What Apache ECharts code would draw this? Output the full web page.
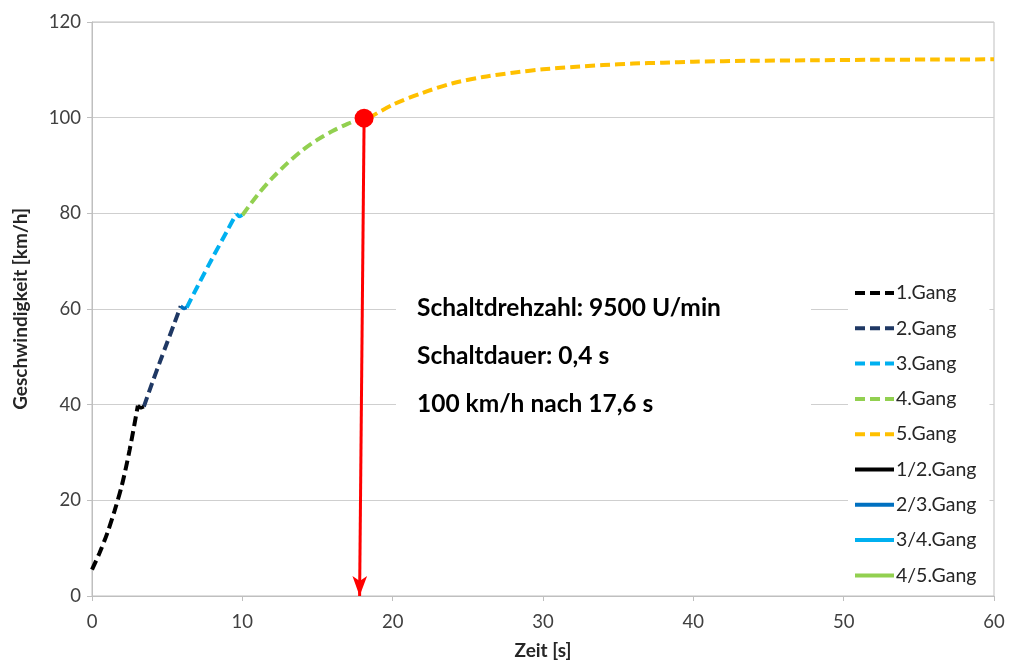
<!DOCTYPE html>
<html>
<head>
<meta charset="utf-8">
<script src="https://cdn.jsdelivr.net/npm/echarts@6/dist/echarts.min.js"></script>
<style>html,body{margin:0;padding:0;background:#fff}#c{width:1010px;height:665px}</style>
</head>
<body>
<div id="c"></div>
<script>
// ---- data ----
const xTicks = [0, 10, 20, 30, 40, 50, 60];
const yTicks = [0, 20, 40, 60, 80, 100, 120];
const gear1 = [[0,5.5],[0.5,9],[1,13],[1.5,17.8],[2,23.3],[2.5,30.5],[3.05,39.8]];
const shift12 = [[3.05,39.8],[3.25,39.3],[3.45,39.6]];
const gear2 = [[3.45,39.6],[4,44.5],[4.5,48.8],[5,53],[5.5,57.2],[5.9,60.6]];
const shift23 = [[5.9,60.6],[6.1,60.1],[6.3,60.3]];
const gear3 = [[6.3,60.3],[7,64.6],[8,70.6],[9,76.4],[9.6,79.9]];
const shift34 = [[9.6,79.9],[9.8,79.3],[10,79.6]];
const gear4 = [[10,79.6],[11,83.8],[12,87.4],[13,90.5],[14,93.2],[15,95.4],[16,97.2],[17,98.7],[18,99.9]];
const shift45 = [[18,99.9],[18.2,99.6],[18.4,99.9]];
const gear5 = [[18.4,99.9],[20,102.7],[22,105.2],[24,107.2],[26,108.5],[28,109.4],[30,110.1],[32,110.6],[34,111.0],[36,111.3],[38,111.5],[40,111.7],[44,111.9],[48,112.0],[52,112.1],[56,112.15],[60,112.2]];
const marker = [[18.1, 99.9]];
const arrowFrom = [18.1, 99.9];
const arrowTo = [17.8, 0];
const infoLines = ['Schaltdrehzahl: 9500 U/min', 'Schaltdauer: 0,4 s', '100 km/h nach 17,6 s'];
const legendNames = ['1.Gang','2.Gang','3.Gang','4.Gang','5.Gang','1/2.Gang','2/3.Gang','3/4.Gang','4/5.Gang'];

const FONT = 'Lato';
const chart = echarts.init(document.getElementById('c'));

function dashed(name, data, color) {
  return {name, type:'line', data, symbol:'none', smooth:0.3, z:3,
    lineStyle:{color, width:4, type:[10,5], cap:'butt'}, itemStyle:{color}};
}
function solid(name, data, color) {
  return {name, type:'line', data, symbol:'none', smooth:false, z:3,
    lineStyle:{color, width:3.5, type:'solid'}, itemStyle:{color}};
}

const option = {
  animation:false,
  backgroundColor:'#fff',
  textStyle:{fontFamily:FONT},
  grid:{left:92, right:16, top:22, bottom:66, show:true, borderColor:'#BFBFBF', borderWidth:1},
  xAxis:{type:'value', min:0, max:60, interval:10,
    name:'Zeit [s]', nameLocation:'middle', nameGap:45,
    nameTextStyle:{fontFamily:FONT, fontWeight:'bold', fontSize:19, color:'#262626'},
    axisLine:{show:true, lineStyle:{color:'#BFBFBF'}},
    axisTick:{show:true, length:5, lineStyle:{color:'#BFBFBF'}},
    axisLabel:{fontFamily:FONT, fontSize:18.5, color:'#404040', margin:17,
      formatter:v=>xTicks.includes(v)?String(v):''},
    splitLine:{show:false}},
  yAxis:{type:'value', min:0, max:120, interval:20,
    name:'Geschwindigkeit [km/h]', nameLocation:'middle', nameGap:62,
    nameTextStyle:{fontFamily:FONT, fontWeight:'bold', fontSize:19, color:'#262626'},
    axisLine:{show:true, lineStyle:{color:'#BFBFBF'}},
    axisTick:{show:true, length:5, lineStyle:{color:'#BFBFBF'}},
    axisLabel:{fontFamily:FONT, fontSize:18.5, color:'#404040', margin:11,
      formatter:v=>yTicks.includes(v)?String(v):''},
    splitLine:{show:true, lineStyle:{color:'#CFCFCF', width:1}}},
  legend:{orient:'vertical', left:848, top:275, data:legendNames,
    backgroundColor:'#fff', padding:[8,13,8,5],
    itemWidth:39, itemHeight:14, itemGap:15.3,
    itemStyle:{opacity:0},
    lineStyle:{width:4},
    textStyle:{fontFamily:FONT, fontSize:19.5, color:'#262626', lineHeight:20, padding:[0,0,0,-3]}},
  graphic:[
    {type:'rect', left:396, top:250, shape:{width:415, height:200}, style:{fill:'#fff'}, z:1, silent:true},
    ...infoLines.map((t,i)=>({type:'text', left:417, top:310 + i*48 - 14, z:2, silent:true,
      style:{text:t, fill:'#000', font:'bold 24.5px ' + FONT}}))
  ],
  series:[
    dashed('1.Gang', gear1, '#000000'),
    dashed('2.Gang', gear2, '#1F3864'),
    dashed('3.Gang', gear3, '#00B0F0'),
    dashed('4.Gang', gear4, '#92D050'),
    dashed('5.Gang', gear5, '#FFC000'),
    solid('1/2.Gang', shift12, '#000000'),
    solid('2/3.Gang', shift23, '#0070C0'),
    solid('3/4.Gang', shift34, '#00B0F0'),
    solid('4/5.Gang', shift45, '#92D050'),
    {name:'marker', type:'scatter', data:marker, symbolSize:19, z:5,
      itemStyle:{color:'#FF0000', opacity:1},
      markLine:{silent:true, symbol:['none','arrow'], symbolSize:[11,20],
        label:{show:false},
        lineStyle:{color:'#FF0000', width:3, type:'solid'},
        data:[[{coord:arrowFrom},{coord:arrowTo}]]}}
  ]
};
chart.setOption(option);
</script>
</body>
</html>
